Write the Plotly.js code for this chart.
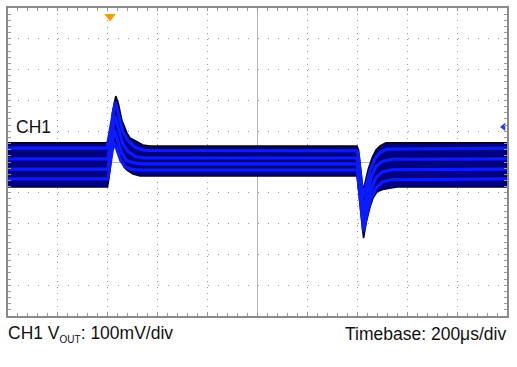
<!DOCTYPE html>
<html>
<head>
<meta charset="utf-8">
<script src="https://cdn.plot.ly/plotly-3.0.1.min.js"></script>
<style>html,body{margin:0;padding:0;background:#fff;}#chart{width:517px;height:367px;}</style>
</head>
<body>
<div id="chart"></div>
<script>
// Time in µs relative to screen centre, voltage in mV relative to screen centre (100 mV/div, 200 µs/div)
// Outer envelope of the persistence band
const topX = [-1000, -603, -599, -588, -582, -568, -557, -544, -531, -523, -511, -487, -459, -431, 399, 405, 423, 431, 443, 459, 475, 491, 515, 1000];
const topY = [62, 62, 71, 104, 159, 214, 188, 136, 110, 94, 78, 68, 55, 52, 52, 39, -94, -68, -26, 13, 39, 52, 62, 62];
const botX = [-1000, -601, -591, -587, -582, -573, -563, -555, -544, -535, -523, -499, -471, 399, 405, 425, 436, 451, 463, 479, 507, 559, 1000];
const botY = [-81, -81, -26, 0, 39, 52, 45, 32, 0, -16, -26, -39, -45, -45, -91, -247, -195, -146, -117, -97, -88, -81, -81];

// Brighter traces inside the band
const stripeAX = [-1000, -603, -570, -555, -540, -520, -490, -450, 399, 404, 423, 435, 450, 470, 490, 520, 1000];
const stripeAY = [45, 45, 195, 150, 100, 70, 48, 38, 36, 20, -115, -80, -30, 10, 30, 42, 45];
const stripeBX = [-1000, -600, -572, -558, -540, -520, -490, -450, 399, 404, 424, 438, 455, 475, 500, 540, 1000];
const stripeBY = [10, 10, 150, 110, 60, 35, 18, 13, 13, -5, -160, -110, -50, -15, 2, 9, 10];
const stripeCX = [-1000, -600, -574, -560, -545, -525, -495, -460, 399, 404, 424, 438, 455, 475, 500, 540, 1000];
const stripeCY = [-23, -23, 105, 70, 30, 5, -3, -6, -6, -30, -200, -150, -90, -50, -32, -25, -23];
const stripeDX = [-1000, -600, -577, -563, -548, -530, -500, -470, 399, 404, 425, 437, 455, 475, 500, 540, 1000];
const stripeDY = [-55, -55, 65, 40, 5, -15, -25, -26, -26, -55, -225, -175, -115, -85, -65, -57, -55];

// Markers: trigger position (top) and CH1 reference level (right)
const trigX = [-591];
const trigY = [472];
const refX = [986];
const refY = [114];

const labelCh1 = 'CH1';
const labelScale = 'CH1 V<sub><span style="font-size:10px">OUT</span></sub>: 100mV/div';
const labelTime = 'Timebase: 200μs/div';

const bandX = topX.concat(botX.slice().reverse());
const bandY = topY.concat(botY.slice().reverse());

const stripeColor = '#0a1cff';
const traces = [
  {x: bandX, y: bandY, type: 'scatter', mode: 'lines', fill: 'toself', fillcolor: '#000080',
   line: {color: '#00002a', width: 1.6}, hoverinfo: 'skip'},
  {x: stripeAX, y: stripeAY, type: 'scatter', mode: 'lines', line: {color: stripeColor, width: 3.2}, hoverinfo: 'skip'},
  {x: stripeBX, y: stripeBY, type: 'scatter', mode: 'lines', line: {color: stripeColor, width: 3.2}, hoverinfo: 'skip'},
  {x: stripeCX, y: stripeCY, type: 'scatter', mode: 'lines', line: {color: stripeColor, width: 3.2}, hoverinfo: 'skip'},
  {x: stripeDX, y: stripeDY, type: 'scatter', mode: 'lines', line: {color: stripeColor, width: 3.2}, hoverinfo: 'skip'},
  {x: trigX, y: trigY, type: 'scatter', mode: 'markers', cliponaxis: false,
   marker: {symbol: 'triangle-down', size: 10, color: '#ff9a00'}, hoverinfo: 'skip'},
  {x: refX, y: refY, type: 'scatter', mode: 'markers', cliponaxis: false,
   marker: {symbol: 'triangle-left', size: 7, color: '#1f3cff'}, hoverinfo: 'skip'}
];

const axisCommon = {
  showticklabels: false, showline: true, mirror: 'allticks', linecolor: '#8a8a8a', linewidth: 2,
  ticks: 'inside', ticklen: 3, tickcolor: '#9a9a9a', tickwidth: 1,
  showgrid: true, gridcolor: '#9a9a9a', gridwidth: 1,
  zeroline: true, zerolinecolor: '#b4b4b4', zerolinewidth: 1, fixedrange: true
};

const layout = {
  width: 517, height: 367,
  margin: {l: 8, r: 10, t: 8, b: 51, pad: 0},
  paper_bgcolor: '#ffffff', plot_bgcolor: '#ffffff',
  showlegend: false,
  font: {family: '"Liberation Sans", Arial, sans-serif', color: '#111'},
  xaxis: Object.assign({}, axisCommon, {range: [-1000, 1000], tick0: 0, dtick: 200, griddash: '1px,5.2px',
    minor: {dtick: 40, ticks: 'inside', ticklen: 3, tickcolor: '#9a9a9a', showgrid: false}}),
  yaxis: Object.assign({}, axisCommon, {range: [-500, 500], tick0: 0, dtick: 100, griddash: '1px,9px',
    minor: {dtick: 20, ticks: 'inside', ticklen: 3, tickcolor: '#9a9a9a', showgrid: false}}),
  annotations: [
    {text: labelCh1, xref: 'paper', yref: 'paper', x: 0.012, y: 0.614, xanchor: 'left', yanchor: 'middle',
     showarrow: false, font: {size: 17.5, color: '#111'}},
    {text: labelScale, xref: 'paper', yref: 'paper', x: -0.004, y: -0.06, xanchor: 'left', yanchor: 'middle',
     showarrow: false, font: {size: 17.5, color: '#111'}},
    {text: labelTime, xref: 'paper', yref: 'paper', x: 1.002, y: -0.06, xanchor: 'right', yanchor: 'middle',
     showarrow: false, font: {size: 17.5, color: '#111'}}
  ]
};

Plotly.newPlot('chart', traces, layout, {staticPlot: true, displayModeBar: false});
</script>
</body>
</html>
